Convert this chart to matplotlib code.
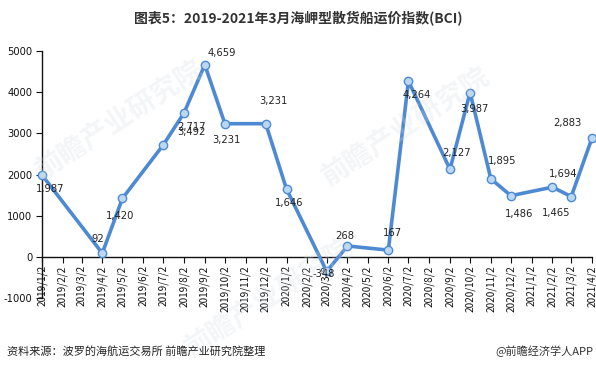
import matplotlib
matplotlib.use("Agg")
import matplotlib.pyplot as plt
import matplotlib.dates as mdates
import datetime as dt

# ---- data ----
dates = ["2019-01-02", "2019-04-02", "2019-05-02", "2019-07-02", "2019-08-02",
         "2019-09-02", "2019-10-02", "2019-12-02", "2020-01-02", "2020-03-02",
         "2020-04-02", "2020-06-02", "2020-07-02", "2020-09-02", "2020-10-02",
         "2020-11-02", "2020-12-02", "2021-02-02", "2021-03-02", "2021-04-02"]
values = [1987, 92, 1420, 2717, 3492, 4659, 3231, 3231, 1646, -348,
          268, 167, 4264, 2127, 3987, 1895, 1486, 1694, 1465, 2883]
yticks = [-1000, 0, 1000, 2000, 3000, 4000, 5000]
title = "图表5：2019-2021年3月海岬型散货船运价指数(BCI)"
source = "资料来源：波罗的海航运交易所 前瞻产业研究院整理"
brand = "@前瞻经济学人APP"

# label offsets in pixels (style)
offsets = [(8, -14), (-5, 14), (-2, -18), (28, 18), (7, -19), (17, 12), (2, -16),
           (8, 23), (3, -14), (-3, -3), (-3, 10), (4, 17), (8, -14), (7, 16),
           (4, -16), (11, 18), (8, -18), (11, 13), (-15, -16), (-25, 15)]

plt.rcParams['font.family'] = ['Noto Sans CJK SC', 'DejaVu Sans']

W, H = 596, 371
fig = plt.figure(figsize=(W / 100, H / 100), dpi=100)
left, right = 42 / W, 592 / W
bottom, top = 1 - 298.3 / H, 1 - 50.7 / H
ax = fig.add_axes([left, bottom, right - left, top - bottom])

x = [dt.datetime.strptime(d, "%Y-%m-%d") for d in dates]

# faint watermarks
for (wx, wy) in [(0.2, 0.68), (0.68, 0.66), (0.45, 0.2)]:
    fig.text(wx, wy, "前瞻产业研究院", fontsize=20, fontweight='bold', color='#d5d9e0',
             alpha=0.25, rotation=33, ha='center', va='center', zorder=0)

line_color = '#4E8AD4'
ax.plot(x, values, color=line_color, lw=2.6, marker='o', ms=6,
        mfc='#BBD8F2', mec='#4E8AD4', mew=1.0, zorder=3, clip_on=False)

for xi, v, (dx, dy) in zip(x, values, offsets):
    ax.annotate(f"{v:,}", (mdates.date2num(xi), v), xytext=(dx, dy),
                textcoords='offset pixels', ha='center', va='center',
                fontsize=7.2, color='#222222', family=['DejaVu Sans'], zorder=4)

ax.set_xlim(mdates.date2num(dt.datetime(2019, 1, 2)), mdates.date2num(dt.datetime(2021, 4, 2)))
ax.set_ylim(-1000, 5000)
ax.set_yticks(yticks)
ax.set_yticklabels([str(t) for t in yticks], family=['DejaVu Sans'])

ticks = []
yy, mm = 2019, 1
while (yy, mm) <= (2021, 4):
    ticks.append(dt.datetime(yy, mm, 2))
    mm += 1
    if mm > 12:
        mm = 1
        yy += 1
ax.set_xticks([mdates.date2num(t) for t in ticks])
ax.set_xticklabels([f"{t.year}/{t.month}/{t.day}" for t in ticks], family=['DejaVu Sans'])

ax.spines['top'].set_visible(False)
ax.spines['right'].set_visible(False)
ax.spines['bottom'].set_position(('data', 0))
for s in ['left', 'bottom']:
    ax.spines[s].set_color('#111111')
    ax.spines[s].set_linewidth(1.0)
ax.tick_params(axis='x', direction='out', length=4, width=0.8, labelsize=7.2,
               colors='#111111', pad=2, labelrotation=90)
ax.tick_params(axis='y', direction='out', length=4, width=0.8, labelsize=7.2,
               colors='#111111', pad=3)
ax.patch.set_alpha(0)

fig.text(0.5, 1 - 18 / H, title, ha='center', va='center', fontsize=10,
         fontweight='bold', color='#333333')
fig.text(7 / W, 1 - 351 / H, source, ha='left', va='center', fontsize=8, color='#222222')
fig.text(593 / W, 1 - 351 / H, brand, ha='right', va='center', fontsize=8, color='#333333')

fig.savefig("out.png", dpi=100)
